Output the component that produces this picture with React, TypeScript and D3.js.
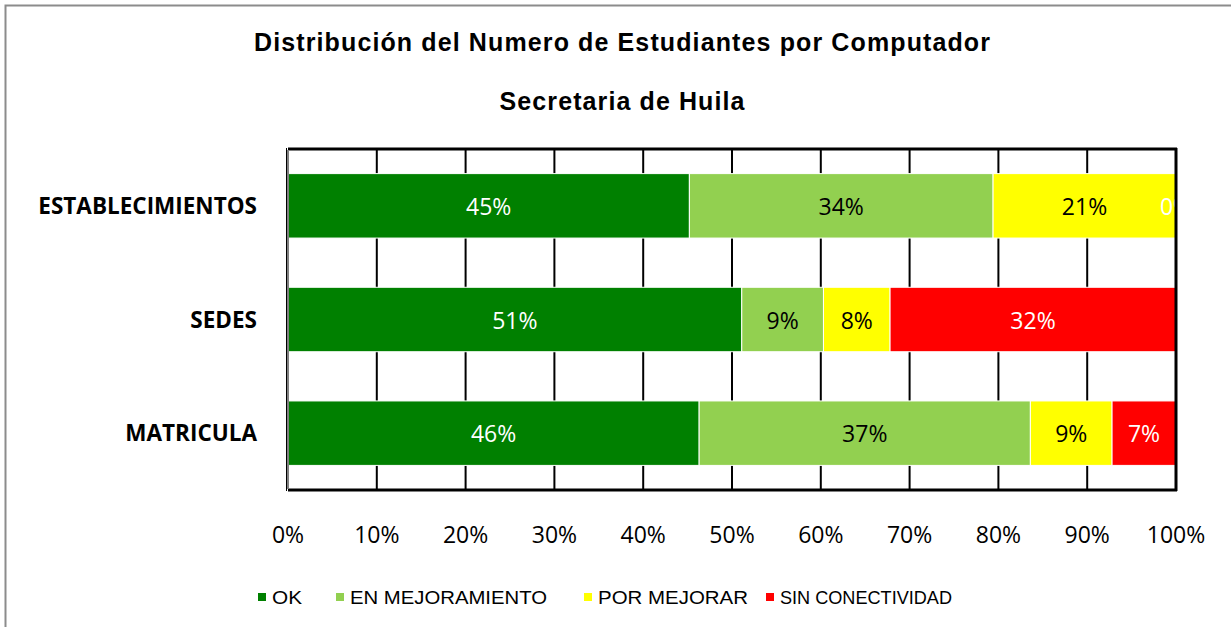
import React from "react";
import * as d3 from "d3";

const categories = ["ESTABLECIMIENTOS", "SEDES", "MATRICULA"];
const seriesNames = ["OK", "EN MEJORAMIENTO", "POR MEJORAR", "SIN CONECTIVIDAD"];
const seriesColors = ["#008000", "#92D050", "#FFFF00", "#FF0000"];
const labelColors = ["#ffffff", "#000000", "#000000", "#ffffff"];
const okValues = [45.2, 51.1, 46.3];
const enMejoramientoValues = [34.2, 9.2, 37.3];
const porMejorarValues = [20.6, 7.5, 9.2];
const sinConectividadValues = [0, 32.2, 7.2];
const xTicks = [0, 10, 20, 30, 40, 50, 60, 70, 80, 90, 100];
const titleLine1 = "Distribución del Numero de Estudiantes por Computador";
const titleLine2 = "Secretaria de Huila";

const W = 1231;
const H = 627;
const plot = { left: 288, right: 1176, top: 149, bottom: 490 };

export default function App() {
  const x = d3.scaleLinear().domain([0, 100]).range([plot.left, plot.right]);
  const y = d3
    .scaleBand<string>()
    .domain(categories)
    .range([plot.top, plot.bottom])
    .paddingInner(0.433)
    .paddingOuter(0.2165);

  const rows = categories.map((c, i) => ({
    cat: c,
    OK: okValues[i],
    "EN MEJORAMIENTO": enMejoramientoValues[i],
    "POR MEJORAR": porMejorarValues[i],
    "SIN CONECTIVIDAD": sinConectividadValues[i],
  }));
  const stack = d3.stack<any>().keys(seriesNames)(rows);

  const legendItems = [
    { sq: 258, tx: 272, w: 30 },
    { sq: 336, tx: 350, w: 197 },
    { sq: 584, tx: 598, w: 150 },
    { sq: 766, tx: 780, w: 172 },
  ];

  return (
    <svg
      width={W}
      height={H}
      style={{ position: "absolute", left: 0, top: 0, background: "#fff" }}
    >
      <defs>
        <clipPath id="plotClip">
          <rect x={plot.left} y={plot.top} width={plot.right - plot.left} height={plot.bottom - plot.top} />
        </clipPath>
      </defs>
      <rect x={5.5} y={5.5} width={1240} height={640} fill="#fff" stroke="#8c8c8c" strokeWidth={2} />

      <g fontFamily="'Liberation Sans', Arial, sans-serif" fontWeight="bold" fill="#000" textAnchor="middle">
        <text x={622} y={51} fontSize={25} textLength={736} lengthAdjust="spacing">
          {titleLine1}
        </text>
        <text x={622} y={110} fontSize={25} textLength={245} lengthAdjust="spacing">
          {titleLine2}
        </text>
      </g>

      {/* gridlines */}
      <g>
        {xTicks.slice(1, -1).map((t) => (
          <line key={t} x1={x(t)} x2={x(t)} y1={plot.top} y2={plot.bottom} stroke="#000" strokeWidth={2} />
        ))}
      </g>

      {/* bars */}
      <g>
        {stack.map((s, si) =>
          s.map((d, di) => {
            const w = x(d[1]) - x(d[0]);
            if (w <= 0) return null;
            return (
              <rect
                key={`${si}-${di}`}
                x={x(d[0])}
                y={y(categories[di])}
                width={w}
                height={y.bandwidth()}
                fill={seriesColors[si]}
                stroke="#fff"
                strokeWidth={1}
              />
            );
          })
        )}
      </g>

      {/* data labels */}
      <g clipPath="url(#plotClip)" fontFamily="'Open Sans', sans-serif" fontSize={23} textAnchor="middle">
        {stack.map((s, si) =>
          s.map((d, di) => (
            <text
              key={`l${si}-${di}`}
              x={(x(d[0]) + x(d[1])) / 2}
              y={(y(categories[di]) as number) + y.bandwidth() / 2 + 9}
              fill={labelColors[si]}
            >
              {Math.round(d[1] - d[0])}%
            </text>
          ))
        )}
      </g>

      {/* frame */}
      <line x1={plot.left} x2={plot.right + 1} y1={plot.top} y2={plot.top} stroke="#000" strokeWidth={3} />
      <line x1={plot.left} x2={plot.right + 1} y1={plot.bottom} y2={plot.bottom} stroke="#000" strokeWidth={3} />
      <line x1={plot.right} x2={plot.right} y1={plot.top - 1} y2={plot.bottom + 1} stroke="#000" strokeWidth={3} />
      <line x1={plot.left - 1.5} x2={plot.left - 1.5} y1={plot.top - 1} y2={plot.bottom + 1} stroke="#000" strokeWidth={1} />
      <line x1={plot.left} x2={plot.left} y1={plot.top + 1} y2={plot.bottom - 1} stroke="#808080" strokeWidth={2} />

      {/* category labels */}
      <g fontFamily="'Open Sans', sans-serif" fontWeight="bold" fontSize={22.5} textAnchor="end" fill="#000">
        {categories.map((c) => (
          <text key={c} x={257} y={(y(c) as number) + y.bandwidth() / 2 + 8}>
            {c}
          </text>
        ))}
      </g>

      {/* x tick labels */}
      <g fontFamily="'Open Sans', sans-serif" fontSize={23} textAnchor="middle" fill="#000">
        {xTicks.map((t) => (
          <text key={t} x={x(t)} y={543}>
            {t}%
          </text>
        ))}
      </g>

      {/* legend */}
      <g fontFamily="'Liberation Sans', Arial, sans-serif" fontSize={19} fill="#000">
        {seriesNames.map((n, i) => (
          <g key={n}>
            <rect x={legendItems[i].sq} y={593} width={8} height={8} fill={seriesColors[i]} />
            <text
              x={legendItems[i].tx}
              y={604}
              textLength={legendItems[i].w}
              lengthAdjust="spacingAndGlyphs"
            >
              {n}
            </text>
          </g>
        ))}
      </g>
    </svg>
  );
}
